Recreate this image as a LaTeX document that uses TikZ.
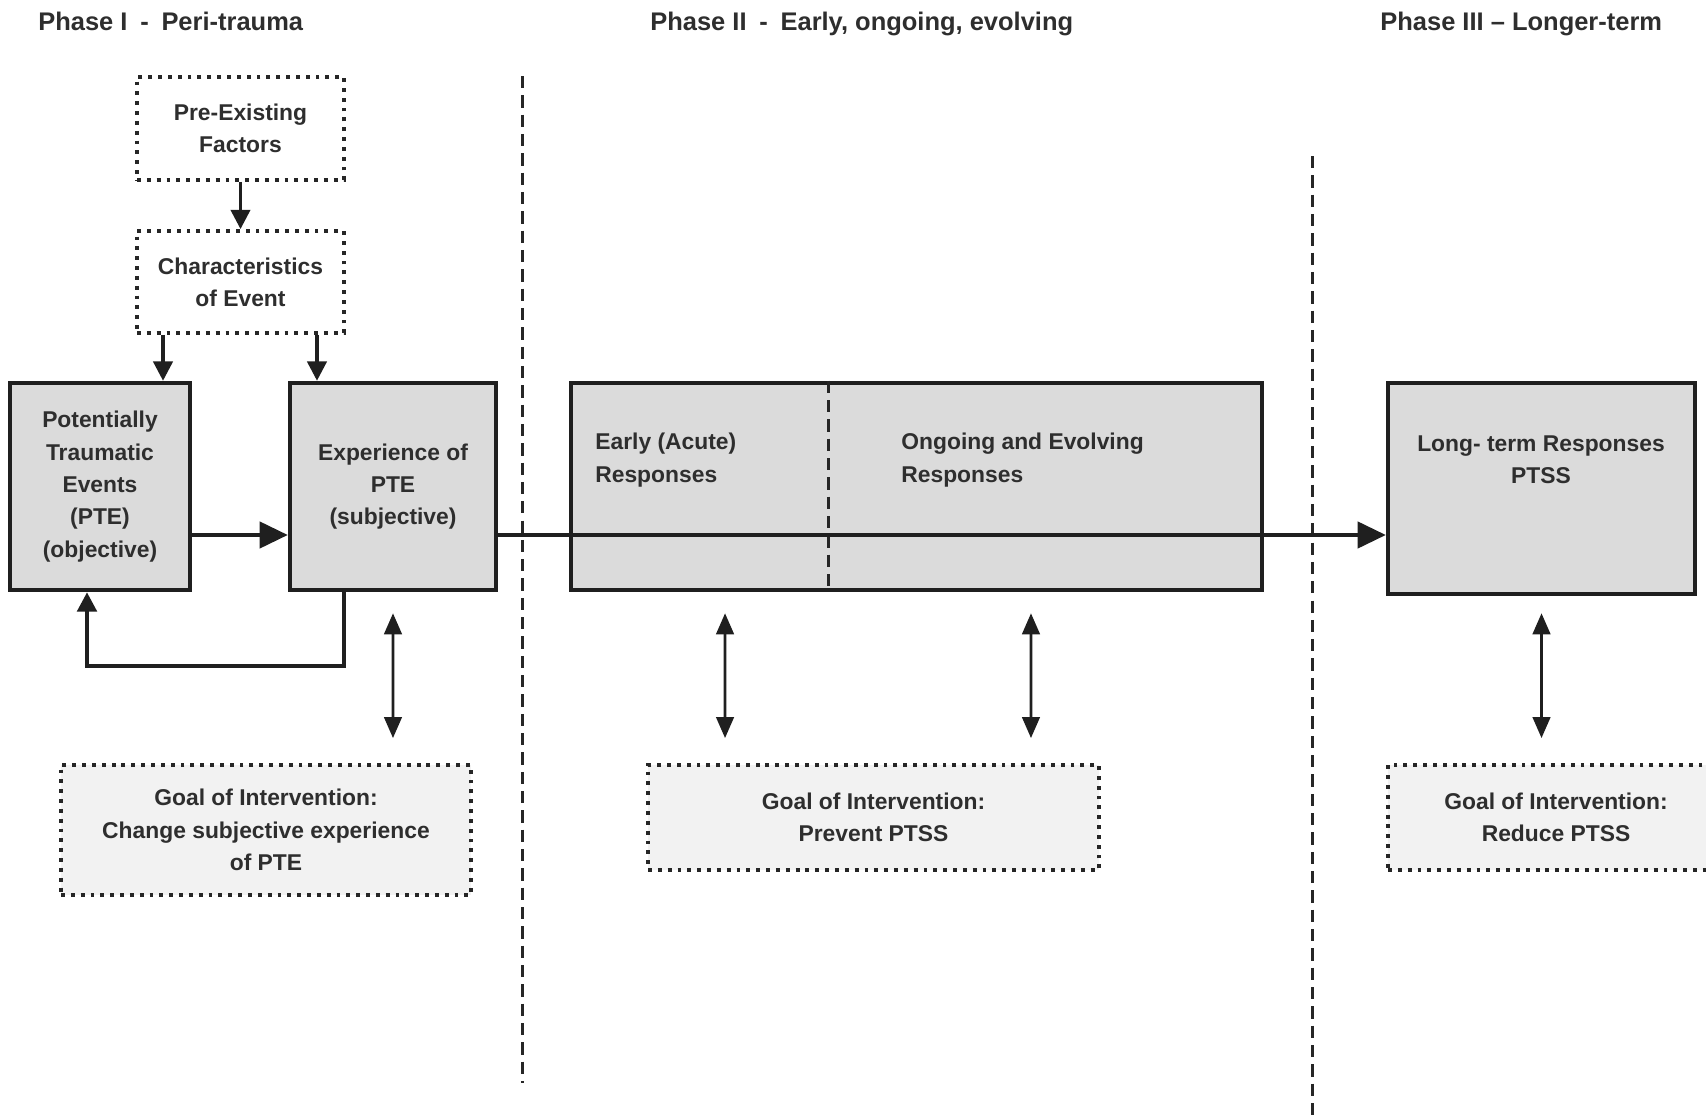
\documentclass[tikz,border=0pt]{standalone}
\usepackage{fontspec}
\setmainfont{Liberation Sans}
\usepackage{tikz}
\usetikzlibrary{arrows.meta,positioning,calc}

\begin{document}
\begin{tikzpicture}[
                x=0.02cm, y=-0.02cm,
                font=\fontsize{13}{18.4}\selectfont\bfseries,
                text=black!82,
                box/.style={rectangle, draw=black!88, line width=2.6pt, fill=black!14, align=center, inner sep=2pt},
                dotbox/.style={rectangle, draw=black!85, line width=2.2pt, dash pattern=on 2.2pt off 3.4pt, fill=white, align=center, inner sep=2pt},
                goalbox/.style={dotbox, fill=black!5},
                lbl/.style={align=left, inner sep=0pt},
                arr/.style={-{Triangle[length=16pt, width=15pt]}, line width=1.9pt, black!88},
                sarr/.style={-{Triangle[length=11pt, width=11pt]}, line width=1.9pt, black!88},
                dblarr/.style={{Triangle[length=12pt, width=10pt]}-{Triangle[length=12pt, width=10pt]}, line width=1.6pt, black!88},
                divline/.style={line width=1.7pt, dash pattern=on 7pt off 4pt, black!85},
                phase/.style={anchor=base west, font=\fontsize{14.5}{17}\selectfont\bfseries, inner sep=0pt},
            ]
            \clip (0,0) rectangle (1706,1119);
            \node[phase] (ph1) at (38,31) {Phase I\enspace-\enspace Peri-trauma};
            \node[phase] (ph2) at (650,31) {Phase II\enspace -\enspace Early, ongoing, evolving};
            \node[phase] (ph3) at (1380,31) {Phase III – Longer-term};

            \node[dotbox, minimum width=4.14cm, minimum height=2.06cm] (pre) at (240.5,128.5) {Pre-Existing\\Factors};
            \node[dotbox, minimum width=4.14cm, minimum height=2.04cm] (chr) at (240.5,282) {Characteristics\\of Event};
            \node[box, minimum width=3.6cm, minimum height=4.14cm] (pte) at (100,486.5) {Potentially\\Traumatic\\Events\\(PTE)\\(objective)};
            \node[box, minimum width=4.12cm, minimum height=4.14cm] (exp) at (393,486.5) {Experience of\\PTE\\(subjective)};
            \node[box, minimum width=13.82cm, minimum height=4.14cm] (mid) at (916.5,486.5) {};
            \node[box, minimum width=6.14cm, minimum height=4.22cm] (long) at (1541.5,488.5) {};
            \node[lbl, anchor=west] (early) at (595,460) {Early (Acute)\\Responses};
            \node[lbl, anchor=west] (ongo) at (901,460) {Ongoing and Evolving\\Responses};
            \node[lbl, align=center] (ltr) at (1541,460) {Long- term Responses\\PTSS};
            \node[goalbox, minimum width=8.2cm, minimum height=2.6cm] (goal1) at (266,830) {Goal of Intervention:\\Change subjective experience\\of PTE};
            \node[goalbox, minimum width=9.02cm, minimum height=2.1cm] (goal2) at (873.5,817.5) {Goal of Intervention:\\Prevent PTSS};
            \node[goalbox, minimum width=6.72cm, minimum height=2.1cm] (goal3) at (1556,817.5) {Goal of Intervention:\\Reduce PTSS};

            \draw[divline] (522,76) -- (522,1083);
            \draw[divline] (1312,156) -- (1312,1119);
            \draw[divline] ([xshift=-1.77cm]mid.north) -- ([xshift=-1.77cm]mid.south);

            \draw[sarr] (pre) -- (chr);
            \draw[sarr] ([xshift=-1.55cm]chr.south) -- ([xshift=-1.55cm]chr.south |- pte.north);
            \draw[sarr] ([xshift=1.53cm]chr.south) -- ([xshift=1.53cm]chr.south |- exp.north);
            \draw[arr] ([yshift=-0.97cm]pte.east) -- ([yshift=-0.97cm]exp.west);
            \draw[arr] ([yshift=-0.97cm]exp.east) -- ([yshift=-0.97cm]exp.east -| long.west);
            \draw[sarr, line width=2.3pt] ([xshift=-0.98cm]exp.south) -- ++(0cm,-1.48cm) -| ([xshift=-0.26cm]pte.south);
            \draw[dblarr] ([yshift=-0.42cm]exp.south) -- ([xshift=2.54cm, yshift=0.5cm]goal1.north);
            \draw[dblarr] ([xshift=-3.83cm, yshift=-0.42cm]mid.south) -- ([xshift=-2.97cm, yshift=0.5cm]goal2.north);
            \draw[dblarr] ([xshift=2.29cm, yshift=-0.42cm]mid.south) -- ([xshift=3.15cm, yshift=0.5cm]goal2.north);
            \draw[dblarr] ([yshift=-0.34cm]long.south) -- ([xshift=-0.29cm, yshift=0.5cm]goal3.north);
        \end{tikzpicture}
\end{document}
